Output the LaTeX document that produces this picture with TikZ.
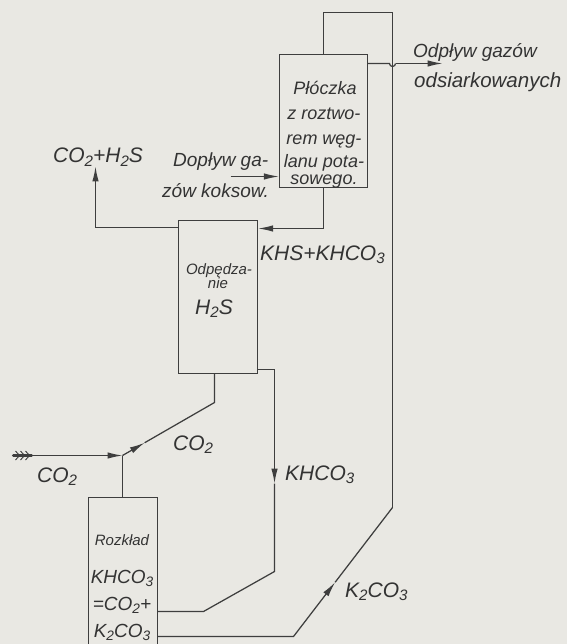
\documentclass[tikz,border=0pt]{standalone}
\usepackage{fontspec}
\usepackage{graphicx}
\setmainfont{Liberation Sans}
\usetikzlibrary{arrows.meta,calc}
\newcommand\chsub[1]{\raisebox{-0.32ex}{\scalebox{0.72}{#1}}}
\definecolor{paper}{HTML}{E9E8E3}
\definecolor{ink}{HTML}{3E3E3E}
\definecolor{tink}{HTML}{333333}
\begin{document}
\begin{tikzpicture}[x=1pt,y=-1pt,
  ln/.style={draw=ink,line width=1.25pt},
  arr/.style={ln,-{Latex[length=15pt,width=6.5pt]}},
  box/.style={ln,rectangle,inner sep=0pt},
  txt/.style={text=tink,inner sep=0pt},
  fA/.style={font=\fontsize{21}{21}\selectfont\itshape},
  fB/.style={font=\fontsize{19}{19}\selectfont\itshape},
  fE/.style={font=\fontsize{20.5}{20.5}\selectfont\itshape},
  fC/.style={font=\fontsize{18}{18}\selectfont\itshape},
  fD/.style={font=\fontsize{15}{15}\selectfont\itshape}]
\fill[paper] (0,0) rectangle (567,644);
\useasboundingbox (0,0) rectangle (567,644);
\clip (0,0) rectangle (567,644);
\begin{scope}[shift={(0.5,-0.5)}]
% boxes
\node[box,minimum width=88pt,minimum height=133pt] (plo) at (323,121.5) {};
\node[box,minimum width=79pt,minimum height=153pt] (odp) at (217.5,297.5) {};
\node[box,minimum width=69pt,minimum height=170pt] (roz) at (122.5,583) {};

% coordinates
\coordinate (lt) at (323,13);
\coordinate (rt) at (392,13);
\coordinate (rb) at (392,508);
\coordinate (bl) at (293,637);
\coordinate (k2arr) at ($(bl)!0.42!(rb)$);
\coordinate (outE) at (442,64);
\coordinate (hL) at (389,64);
\coordinate (dop) at (230,177);
\coordinate (pb) at (323,229);
\coordinate (lc) at (95,228);
\coordinate (lcu) at (95,167);
\coordinate (kr) at (274,370);
\coordinate (krarr) at (274,484);
\coordinate (krb) at (274,572);
\coordinate (krd) at (203,612);
\coordinate (ob) at (214,403);
\coordinate (j) at (122,456);
\coordinate (jarr) at ($(j)!0.24!(ob)$);
\coordinate (cin) at (12,456);

% loop from Rozklad to Ploczka
\draw[ln] (plo.north) -- (lt) -- (rt) -- (rb);
\draw[arr] (roz.east |- bl) -- (bl) -- (k2arr);
\draw[ln] (k2arr) -- (rb);
% outlet with bridge
\draw[ln] (plo.east |- outE) -- (hL) arc[start angle=180,end angle=0,radius=3];
\draw[arr] ($(hL)+(6,0)$) -- (outE);
% inlet of coke gases
\draw[arr] (dop) -- (plo.west |- dop);
% Ploczka -> Odpedzanie
\draw[ln] (plo.south) -- (pb);
\draw[arr] (pb) -- (odp.east |- pb);
% Odpedzanie -> CO2+H2S
\draw[arr] (odp.west |- lc) -- (lc) -- (lcu);
% Odpedzanie -> Rozklad (KHCO3)
\draw[arr] (odp.east |- kr) -- (kr) -- (krarr);
\draw[ln] (krarr) -- (krb) -- (krd) -- (roz.east |- krd);
% CO2
\draw[arr] (cin) -- (j);
\draw[arr] (j) -- (jarr);
\draw[ln] (jarr) -- (ob) -- (odp.south -| ob);
\draw[ln] (j) -- (roz.north -| j);
% feathered tail
\draw[ink,line width=3.5pt,line cap=round] (13,456) -- (31,456);
\foreach \xx in {15,20,25}{\draw[ink,line width=0.9pt] (\xx,451.5) -- (\xx+4,456) -- (\xx,460.5);}
\end{scope}

% labels
\node[txt,fB,anchor=base west] (t1) at (413,58) {Odpływ gazów};
\node[txt,fE,anchor=base west] (t2) at (414,88) {odsiarkowanych};
\node[txt,fA,anchor=base west] (t3) at (53,163) {CO\chsub{2}+H\chsub{2}S};
\node[txt,fB,anchor=base west] (t4) at (173,167) {Dopływ ga-};
\node[txt,fB,anchor=base west] (t5) at (162,198) {zów koksow.};
\node[txt,fA,anchor=base west] (t6) at (260,260) {KHS+KHCO\chsub{3}};
\node[txt,fD,anchor=base] (t7) at (219,274) {Odpędza-};
\node[txt,fD,anchor=base] (t8) at (218,288) {nie};
\node[txt,fA,anchor=base] (t9) at (214,314) {H\chsub{2}S};
\node[txt,fC,anchor=base] (p1) at (325,95) {Płóczka};
\node[txt,fC,anchor=base] (p2) at (324,120) {z roztwo-};
\node[txt,fC,anchor=base] (p3) at (324,145) {rem węg-};
\node[txt,fC,anchor=base] (p4) at (324,168) {lanu pota-};
\node[txt,fC,anchor=base] (p5) at (324,185) {sowego.};
\node[txt,fA,anchor=base west] (c1) at (173,450) {CO\chsub{2}};
\node[txt,fA,anchor=base west] (c2) at (37,482) {CO\chsub{2}};
\node[txt,fA,anchor=base west] (c3) at (285,480) {KHCO\chsub{3}};
\node[txt,fA,anchor=base west] (c4) at (345,597) {K\chsub{2}CO\chsub{3}};
\node[txt,fD,anchor=base] (r1) at (122,545) {Rozkład};
\node[txt,fB,anchor=base] (r2) at (122,583) {KHCO\chsub{3}};
\node[txt,fB,anchor=base] (r3) at (122,610) {=CO\chsub{2}+};
\node[txt,fB,anchor=base] (r4) at (122,637) {K\chsub{2}CO\chsub{3}};
\end{tikzpicture}
\end{document}
